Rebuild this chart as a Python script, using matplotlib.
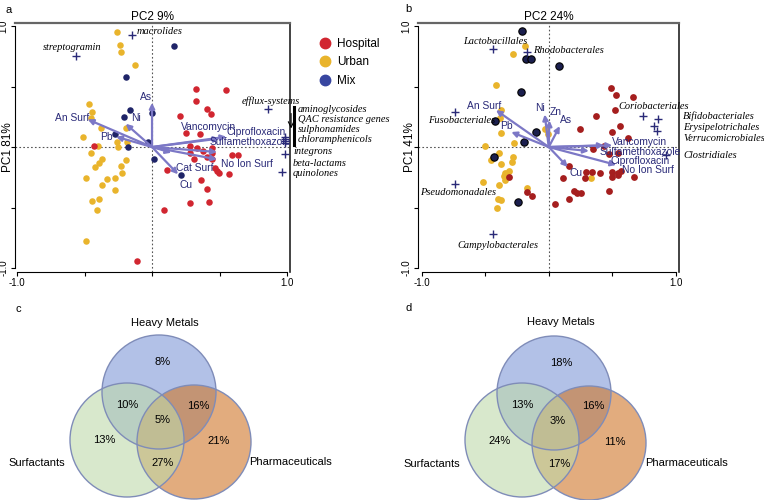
import numpy as np
import matplotlib
matplotlib.use("Agg")
import matplotlib.pyplot as plt
from matplotlib.lines import Line2D
from matplotlib.patches import Circle

plt.rcParams["font.family"] = ["Liberation Sans", "DejaVu Sans"]

################################################################################
# Panel a: sample scores (PC2 on x, PC1 on y)
################################################################################
a_hosp_x = [0.328, 0.549, 0.323, 0.406, 0.434, 0.208, 0.251, 0.353, 0.283, 0.336,
            0.376, 0.441, 0.281, 0.308, 0.446, 0.446, 0.406, 0.589, 0.639, 0.108,
            0.466, 0.484, 0.494, 0.569, 0.366, 0.409, 0.281, 0.421, 0.090, -0.108,
            -0.429]
a_hosp_y = [0.481, 0.470, 0.379, 0.316, 0.275, 0.253, 0.115, 0.104, 0.008, -0.005,
            -0.036, -0.005, -0.052, -0.102, -0.052, -0.096, -0.080, -0.069, -0.063, -0.187,
            -0.170, -0.198, -0.212, -0.220, -0.269, -0.349, -0.459, -0.453, -0.522, -0.945,
            0.005]
a_urb_x = [-0.263, -0.238, -0.231, -0.125, -0.464, -0.441, -0.451, -0.376, -0.509, -0.195,
           -0.261, -0.185, -0.251, -0.401, -0.451, -0.371, -0.396, -0.426, -0.195, -0.233,
           -0.226, -0.491, -0.331, -0.276, -0.371, -0.271, -0.441, -0.391, -0.409, -0.491]
a_urb_y = [0.948, 0.841, 0.788, 0.679, 0.352, 0.291, 0.242, 0.159, 0.085, 0.159,
           0.041, 0.041, 0.000, 0.008, -0.047, -0.102, -0.129, -0.165, -0.107, -0.157,
           -0.212, -0.258, -0.266, -0.253, -0.316, -0.357, -0.445, -0.426, -0.522, -0.780]
a_mix_x = [0.165, -0.190, -0.165, -0.208, -0.003, -0.276, -0.033, -0.175, 0.018, 0.213]
a_mix_y = [0.832, 0.580, 0.310, 0.247, 0.283, 0.104, 0.041, 0.000, -0.102, -0.234]

# resistance genes (crosses)
a_gene_x = [-0.148, -0.566, 0.857, 0.982, 0.987, 0.982, 0.987, 0.987, 0.962]
a_gene_y = [0.923, 0.750, 0.316, 0.085, 0.069, 0.049, 0.030, -0.055, -0.203]
a_gene_lab = ["macrolides", "streptogramin", "efflux-systems"]
a_side_lab = ["aminoglycosides", "QAC resistance genes", "sulphonamides",
              "chloramphenicols", "integrons", "beta-lactams", "quinolones"]

# environmental vectors
a_vec_lab = ["As", "An Surf", "Ni", "Pb", "Vancomycin", "Ciprofloxacin",
             "Sulfamethoxazole", "No Ion Surf", "Cat Surf", "Cu"]
a_vec_x = [0.0, -0.476, -0.195, -0.266, 0.50, 0.551, 0.481, 0.481, 0.143, 0.193]
a_vec_y = [0.365, 0.228, 0.192, 0.085, 0.07, 0.085, -0.041, -0.102, -0.047, -0.225]

################################################################################
# Panel b: sample scores
################################################################################
b_hosp_x = [0.487, 0.532, 0.663, 0.521, 0.374, 0.558, 0.245, 0.500, 0.626, 0.347,
            0.434, 0.474, 0.547, 0.158, 0.295, 0.342, 0.400, 0.495, 0.547, 0.568,
            0.111, 0.289, 0.500, 0.542, 0.668, -0.168, -0.132, -0.316, 0.200, 0.221,
            0.253, 0.163, 0.053, 0.474]
b_hosp_y = [0.489, 0.426, 0.412, 0.310, 0.255, 0.173, 0.146, 0.126, 0.077, -0.014,
            0.008, -0.060, -0.047, -0.157, -0.206, -0.206, -0.217, -0.206, -0.212, -0.195,
            -0.255, -0.255, -0.250, -0.228, -0.245, -0.371, -0.404, -0.250, -0.365, -0.376,
            -0.376, -0.426, -0.475, -0.363]
b_urb_x = [-0.189, -0.284, -0.416, -0.374, -0.382, -0.379, -0.032, -0.005, -0.274, -0.500,
           -0.389, -0.455, -0.282, -0.289, -0.374, -0.311, -0.347, -0.353, -0.329, -0.521,
           -0.389, -0.347, -0.168, -0.400, -0.374, -0.408, 0.329]
b_urb_y = [0.838, 0.772, 0.514, 0.305, 0.239, 0.118, 0.151, 0.104, 0.030, 0.008,
           -0.052, -0.110, -0.082, -0.124, -0.143, -0.198, -0.212, -0.239, -0.239, -0.286,
           -0.316, -0.272, -0.335, -0.426, -0.437, -0.500, -0.255]
b_mix_x = [-0.211, -0.179, -0.137, 0.079, -0.216, -0.421, -0.100, -0.192, -0.434, -0.242]
b_mix_y = [0.956, 0.728, 0.728, 0.673, 0.453, 0.214, 0.124, 0.041, -0.080, -0.453]

# bacterial orders (crosses)
b_taxa_x = [-0.442, -0.168, -0.742, -0.742, -0.442, 0.742, 0.863, 0.826, 0.850, 0.926]
b_taxa_y = [0.810, 0.786, 0.288, -0.308, -0.720, 0.255, 0.228, 0.173, 0.129, -0.069]
b_taxa_lab = ["Lactobacillales", "Rhodobacterales", "Fusobacteriales",
              "Pseudomonadales", "Campylobacterales", "Coriobacteriales"]
b_side_lab = ["Bifidobacteriales", "Erysipelotrichales", "Verrucomicrobiales",
              "Clostridiales"]

b_vec_lab = ["An Surf", "Pb", "Ni", "Zn", "As", "Vancomycin", "Sulfamethoxazole",
             "Ciprofloxacin", "No Ion Surf", "Cu"]
b_vec_x = [-0.416, -0.295, -0.032, 0.005, 0.087, 0.50, 0.316, 0.532, 0.434, 0.15]
b_vec_y = [0.305, 0.124, 0.269, 0.22, 0.173, 0.014, -0.033, -0.148, 0.014, -0.165]

################################################################################
# Venn diagrams (c, d): shares of explained variation
################################################################################
venn_sets = ["Heavy Metals", "Surfactants", "Pharmaceuticals"]
# order: HM only, HM&S, HM&P, all, S only, P only, S&P
venn_c = ["8%", "10%", "16%", "5%", "13%", "21%", "27%"]
venn_d = ["18%", "13%", "16%", "3%", "24%", "11%", "17%"]

################################################################################
# Styles
################################################################################
c_hosp_a, c_urb, c_mix_a = "#D12630", "#E9B42C", "#1F2468"
c_hosp_b, c_mix_b = "#A51E1E", "#1B1F4E"
c_vec = "#7C78C6"
c_txt = "#2A2A78"
serif_it = dict(family=["Liberation Serif", "DejaVu Serif"], style="italic")
vec_fs = 7.4

fig = plt.figure(figsize=(7.64, 5.00), dpi=100)


def style_axes(ax, xlim, ylim, label_x):
    ax.set_xlim(*xlim)
    ax.set_ylim(*ylim)
    ticks = [-1, -0.5, 0, 0.5, 1]
    ax.set_xticks(ticks)
    ax.set_yticks(ticks)
    ax.set_xticklabels(["-1.0", "", "", "", "1.0"])
    ax.set_yticklabels(["-1.0", "", "", "", "1.0"], rotation=90, va="center")
    ax.tick_params(labelsize=7, length=3, width=0.8, pad=1.5)
    ax.spines["left"].set_bounds(-1, 1)
    ax.spines["bottom"].set_bounds(-1, 1)
    ax.spines["top"].set_color("#666666")
    ax.spines["top"].set_linewidth(1.6)
    ax.spines["right"].set_color("#222222")
    ax.spines["right"].set_linewidth(1.2)
    ax.axhline(0, color="#555555", lw=0.8, ls=(0, (1.5, 2)), zorder=1)
    ax.axvline(0, color="#555555", lw=0.8, ls=(0, (1.5, 2)), zorder=1)
    ax.yaxis.set_label_coords(label_x, 0.5)
    ax.yaxis.label.set_va("center")


def draw_vectors(ax, xs, ys):
    for x, y in zip(xs, ys):
        ax.annotate("", xy=(x, y), xytext=(0, 0),
                    arrowprops=dict(arrowstyle="-|>", color=c_vec, lw=1.6,
                                    mutation_scale=8, shrinkA=0, shrinkB=0),
                    zorder=3)


# ---------------- panel a ----------------
ax_a = fig.add_axes([15 / 764, 1 - 272 / 500, 275 / 764, 249 / 500])
ax_a.set_ylabel("PC1 81%", fontsize=8.5)
style_axes(ax_a, (-1.015, 1.022), (-1.033, 1.025), -0.026)
ax_a.scatter(a_urb_x, a_urb_y, s=22, color=c_urb, lw=0, zorder=2)
ax_a.scatter(a_hosp_x, a_hosp_y, s=22, color=c_hosp_a, lw=0, zorder=2)
ax_a.scatter(a_mix_x, a_mix_y, s=22, color=c_mix_a, lw=0, zorder=2)
draw_vectors(ax_a, a_vec_x, a_vec_y)
ax_a.scatter(a_gene_x, a_gene_y, marker="+", s=40, color=c_txt, lw=1.0, zorder=4,
             clip_on=False)

a_vec_txt = [(-0.044, 0.41), (-0.59, 0.237), (-0.119, 0.237), (-0.34, 0.08),
             (0.422, 0.163), (0.77, 0.12), (0.726, 0.04), (0.704, -0.143),
             (0.318, -0.176), (0.25, -0.316)]
for lab, (tx, ty) in zip(a_vec_lab, a_vec_txt):
    ax_a.text(tx, ty, lab, fontsize=vec_fs, color=c_txt, ha="center", va="center",
              zorder=5, clip_on=False)

ax_a.text(-0.111, 0.956, a_gene_lab[0], fontsize=7.5, ha="left", va="center", **serif_it)
ax_a.text(-0.593, 0.824, a_gene_lab[1], fontsize=7.5, ha="center", va="center", **serif_it)
ax_a.text(0.667, 0.378, a_gene_lab[2], fontsize=7.5, ha="left", va="center",
          clip_on=False, **serif_it)
side_a_pos = [(1.08, 0.31), (1.08, 0.229), (1.08, 0.146), (1.08, 0.064),
              (1.05, -0.035), (1.045, -0.135), (1.045, -0.217)]
for lab, (tx, ty) in zip(a_side_lab, side_a_pos):
    ax_a.text(tx, ty, lab, fontsize=7.5, ha="left", va="center", clip_on=False, **serif_it)
ax_a.plot([1.052, 1.052], [0.33, 0.02], color="black", lw=2.2, clip_on=False)
ax_a.annotate("", xy=(1.03, 0.13), xytext=(1.03, 0.30),
              arrowprops=dict(arrowstyle="->", color="black", lw=0.8),
              annotation_clip=False)

ax_a.set_title("PC2 9%", fontsize=8.5, pad=2)
fig.text(5 / 764, 1 - 10 / 500, "a", fontsize=8, va="center")

handles = [Line2D([], [], ls="", marker="o", ms=7.5, color=c_hosp_a, label="Hospital"),
           Line2D([], [], ls="", marker="o", ms=7.5, color=c_urb, label="Urban"),
           Line2D([], [], ls="", marker="o", ms=7.5, color="#3846A0", label="Mix")]
fig.legend(handles=handles, loc="upper left", bbox_to_anchor=(312 / 764, 1 - 32 / 500),
           frameon=False, fontsize=8.5, handletextpad=0.4, labelspacing=0.55,
           borderpad=0, handlelength=1.2)

# ---------------- panel b ----------------
ax_b = fig.add_axes([418 / 764, 1 - 272 / 500, 261 / 764, 249 / 500])
ax_b.set_ylabel("PC1 41%", fontsize=8.5)
style_axes(ax_b, (-1.03, 1.026), (-1.033, 1.025), -0.03)
ax_b.scatter(b_urb_x, b_urb_y, s=24, color=c_urb, lw=0, zorder=2)
ax_b.scatter(b_hosp_x, b_hosp_y, s=24, color=c_hosp_b, lw=0, zorder=2)
ax_b.scatter(b_mix_x, b_mix_y, s=28, color=c_mix_b, edgecolor="black", lw=0.8, zorder=2)
draw_vectors(ax_b, b_vec_x, b_vec_y)
ax_b.scatter(b_taxa_x, b_taxa_y, marker="+", s=40, color=c_txt, lw=1.0, zorder=4)

b_vec_txt = [(-0.513, 0.343), (-0.334, 0.173), (-0.071, 0.319), (0.058, 0.291),
             (0.139, 0.223), (0.718, 0.041), (0.718, -0.041), (0.718, -0.118),
             (0.784, -0.192), (0.211, -0.217)]
for lab, (tx, ty) in zip(b_vec_lab, b_vec_txt):
    ax_b.text(tx, ty, lab, fontsize=vec_fs, color=c_txt, ha="center", va="center",
              zorder=5, clip_on=False)

b_taxa_txt = [((-0.421, 0.874), "center"), ((-0.126, 0.80), "left"),
              ((-0.684, 0.223), "center"), ((-0.711, -0.376), "center"),
              ((-0.40, -0.816), "center"), ((0.547, 0.332), "left")]
for lab, ((tx, ty), ha) in zip(b_taxa_lab, b_taxa_txt):
    ax_b.text(tx, ty, lab, fontsize=7.5, ha=ha, va="center", clip_on=False, **serif_it)
side_b_pos = [(1.06, 0.254), (1.06, 0.163), (1.06, 0.072), (1.06, -0.069)]
for lab, (tx, ty) in zip(b_side_lab, side_b_pos):
    ax_b.text(tx, ty, lab, fontsize=7.5, ha="left", va="center", clip_on=False, **serif_it)

ax_b.set_title("PC2 24%", fontsize=8.5, pad=2)
fig.text(405 / 764, 1 - 9 / 500, "b", fontsize=8, va="center")

# ---------------- panels c, d (Venn) ----------------
venn_fill = {"Heavy Metals": "#8098D7", "Pharmaceuticals": "#CF7628",
             "Surfactants": "#BEDAAA"}
venn_edge = "#7F8CB8"


def draw_venn(ax, centers, labels, label_pos, values, value_pos):
    ax.set_xlim(0, 382)
    ax.set_ylim(210, 0)
    ax.axis("off")
    for name in ["Heavy Metals", "Pharmaceuticals", "Surfactants"]:
        ax.add_patch(Circle(centers[name], 57, facecolor=venn_fill[name],
                            alpha=0.6, lw=0))
    for name in venn_sets:
        ax.add_patch(Circle(centers[name], 57, facecolor="none",
                            edgecolor=venn_edge, lw=1.0))
    for name, (tx, ty) in zip(labels, label_pos):
        ax.text(tx, ty, name, fontsize=8, ha="center", va="center")
    for v, (tx, ty) in zip(values, value_pos):
        ax.text(tx, ty, v, fontsize=8, ha="center", va="center")


ax_c = fig.add_axes([0, 0, 382 / 764, 210 / 500])
draw_venn(ax_c,
          {"Heavy Metals": (159, 102), "Surfactants": (127, 150),
           "Pharmaceuticals": (194, 152)},
          venn_sets, [(165, 33), (37, 173), (291, 172)],
          venn_c, [(163, 72), (127, 115), (198, 116), (163, 130),
                   (104, 150), (219, 151), (163, 173)])
fig.text(15 / 764, 1 - 309 / 500, "c", fontsize=8, va="center")

ax_d = fig.add_axes([382 / 764, 0, 382 / 764, 210 / 500])
draw_venn(ax_d,
          {"Heavy Metals": (172, 103), "Surfactants": (140, 150),
           "Pharmaceuticals": (207, 153)},
          venn_sets, [(179, 32), (50, 174), (305, 173)],
          venn_d, [(179, 73), (140, 115), (211, 116), (176, 131),
                   (118, 151), (233, 152), (177, 174)])
fig.text(406 / 764, 1 - 308 / 500, "d", fontsize=8, va="center")

fig.savefig("out.png", dpi=100)
